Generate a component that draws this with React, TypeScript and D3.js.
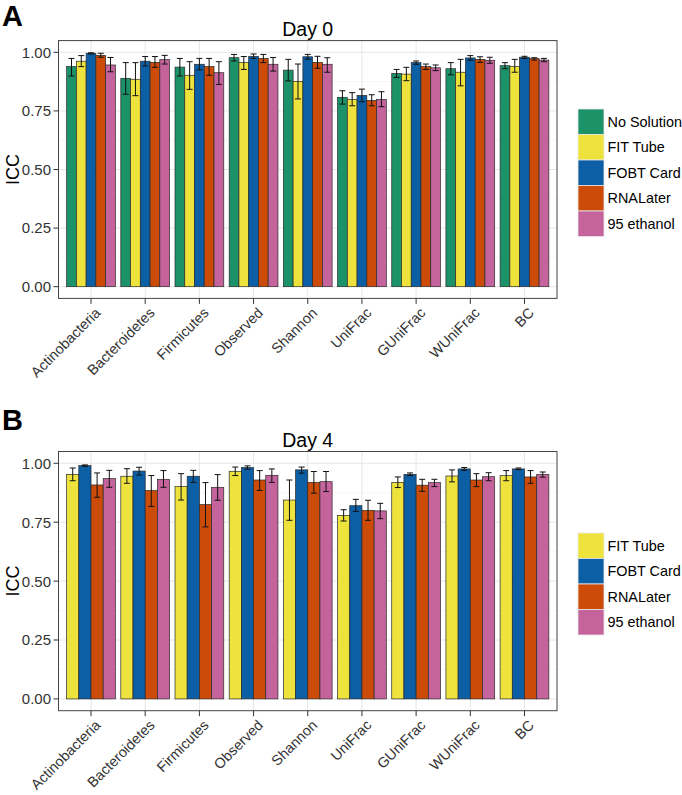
import React from "react";
import * as d3 from "d3";

const categories = ["Actinobacteria", "Bacteroidetes", "Firmicutes", "Observed", "Shannon", "UniFrac", "GUniFrac", "WUniFrac", "BC"];
const yTicks = [0, 0.25, 0.5, 0.75, 1.0];
const yMinor = [0.125, 0.375, 0.625, 0.875];

const day0Series = ["No Solution", "FIT Tube", "FOBT Card", "RNALater", "95 ethanol"];
const day4Series = ["FIT Tube", "FOBT Card", "RNALater", "95 ethanol"];

// Day 0
const d0NoSolution = [0.939, 0.889, 0.937, 0.977, 0.924, 0.808, 0.910, 0.930, 0.943];
const d0NoSolutionLo = [0.899, 0.821, 0.899, 0.963, 0.878, 0.779, 0.893, 0.904, 0.930];
const d0NoSolutionHi = [0.974, 0.956, 0.974, 0.991, 0.970, 0.836, 0.927, 0.956, 0.956];
const d0Fit = [0.962, 0.885, 0.902, 0.957, 0.876, 0.798, 0.907, 0.915, 0.939];
const d0FitLo = [0.939, 0.815, 0.842, 0.927, 0.801, 0.772, 0.879, 0.857, 0.915];
const d0FitHi = [0.986, 0.956, 0.960, 0.982, 0.950, 0.828, 0.936, 0.970, 0.970];
const d0Fobt = [0.996, 0.962, 0.949, 0.983, 0.981, 0.816, 0.956, 0.976, 0.979];
const d0FobtLo = [0.993, 0.942, 0.925, 0.974, 0.971, 0.789, 0.949, 0.966, 0.974];
const d0FobtHi = [0.998, 0.982, 0.974, 0.993, 0.991, 0.843, 0.963, 0.986, 0.983];
const d0Rna = [0.987, 0.957, 0.939, 0.974, 0.957, 0.795, 0.939, 0.970, 0.973];
const d0RnaLo = [0.979, 0.936, 0.902, 0.956, 0.932, 0.772, 0.927, 0.957, 0.967];
const d0RnaHi = [0.996, 0.982, 0.974, 0.991, 0.983, 0.819, 0.950, 0.981, 0.977];
const d0Eth = [0.946, 0.969, 0.913, 0.949, 0.949, 0.799, 0.934, 0.966, 0.967];
const d0EthLo = [0.917, 0.950, 0.863, 0.920, 0.915, 0.768, 0.922, 0.953, 0.960];
const d0EthHi = [0.978, 0.987, 0.960, 0.978, 0.977, 0.832, 0.946, 0.979, 0.974];

// Day 4
const d4Fit = [0.953, 0.945, 0.902, 0.966, 0.844, 0.779, 0.919, 0.946, 0.948];
const d4FitLo = [0.926, 0.915, 0.844, 0.948, 0.758, 0.755, 0.897, 0.921, 0.926];
const d4FitHi = [0.980, 0.977, 0.956, 0.984, 0.929, 0.803, 0.942, 0.972, 0.969];
const d4Fobt = [0.990, 0.967, 0.945, 0.982, 0.972, 0.820, 0.953, 0.976, 0.976];
const d4FobtLo = [0.987, 0.950, 0.919, 0.975, 0.958, 0.796, 0.948, 0.970, 0.973];
const d4FobtHi = [0.993, 0.983, 0.970, 0.989, 0.984, 0.847, 0.959, 0.982, 0.980];
const d4Rna = [0.908, 0.884, 0.825, 0.929, 0.919, 0.800, 0.907, 0.929, 0.942];
const d4RnaLo = [0.856, 0.817, 0.730, 0.885, 0.873, 0.758, 0.881, 0.901, 0.915];
const d4RnaHi = [0.959, 0.948, 0.918, 0.969, 0.965, 0.843, 0.932, 0.956, 0.969];
const d4Eth = [0.935, 0.932, 0.898, 0.949, 0.922, 0.798, 0.918, 0.943, 0.952];
const d4EthLo = [0.898, 0.898, 0.843, 0.919, 0.880, 0.765, 0.901, 0.926, 0.941];
const d4EthHi = [0.970, 0.969, 0.952, 0.976, 0.965, 0.830, 0.932, 0.960, 0.963];

const colorMap: Record<string, string> = {
  "No Solution": "#1c9268",
  "FIT Tube": "#eee33d",
  "FOBT Card": "#0c5ea5",
  "RNALater": "#cd4b09",
  "95 ethanol": "#c5649c",
};

const day0Data = [
  { name: "No Solution", v: d0NoSolution, lo: d0NoSolutionLo, hi: d0NoSolutionHi },
  { name: "FIT Tube", v: d0Fit, lo: d0FitLo, hi: d0FitHi },
  { name: "FOBT Card", v: d0Fobt, lo: d0FobtLo, hi: d0FobtHi },
  { name: "RNALater", v: d0Rna, lo: d0RnaLo, hi: d0RnaHi },
  { name: "95 ethanol", v: d0Eth, lo: d0EthLo, hi: d0EthHi },
];
const day4Data = [
  { name: "FIT Tube", v: d4Fit, lo: d4FitLo, hi: d4FitHi },
  { name: "FOBT Card", v: d4Fobt, lo: d4FobtLo, hi: d4FobtHi },
  { name: "RNALater", v: d4Rna, lo: d4RnaLo, hi: d4RnaHi },
  { name: "95 ethanol", v: d4Eth, lo: d4EthLo, hi: d4EthHi },
];

const FONT = "'Liberation Sans', Arial, Helvetica, sans-serif";

type SeriesData = { name: string; v: number[]; lo: number[]; hi: number[] };

function Panel(props: {
  top: number;
  bottom: number;
  title: string;
  letter: string;
  letterY: number;
  titleY: number;
  series: string[];
  data: SeriesData[];
  legendTop: number;
}) {
  const { top, bottom, title, letter, letterY, titleY, series, data, legendTop } = props;
  const left = 58.5;
  const right = 557;
  const x = d3.scaleBand<string>().domain(categories).range([left, right]).paddingInner(0.1).paddingOuter(0.15);
  const xs = d3.scaleBand<string>().domain(series).range([0, x.bandwidth()]).padding(0);
  const y = d3.scaleLinear().domain([-0.05, 1.05]).range([bottom, top]);
  const step = x.step();
  const centers = categories.map((c) => (x(c) as number) + x.bandwidth() / 2);
  const capHalf = 3;
  const keyH = 25.5;
  return (
    <g>
      <text x={2} y={letterY} fontFamily={FONT} fontWeight="bold" fontSize={29} fill="#000">{letter}</text>
      <text x={(left + right) / 2} y={titleY} textAnchor="middle" fontFamily={FONT} fontSize={19.5} fill="#000">{title}</text>
      <rect x={left} y={top} width={right - left} height={bottom - top} fill="#fff" />
      {yMinor.map((t) => (
        <line key={"mn" + t} x1={left} x2={right} y1={y(t)} y2={y(t)} stroke="#f4f4f4" strokeWidth={0.8} />
      ))}
      {yTicks.map((t) => (
        <line key={"mj" + t} x1={left} x2={right} y1={y(t)} y2={y(t)} stroke="#e6e6e6" strokeWidth={1} />
      ))}
      {centers.map((c, i) => (
        <line key={"vx" + i} x1={c} x2={c} y1={top} y2={bottom} stroke="#e6e6e6" strokeWidth={1} />
      ))}
      {data.map((s) =>
        categories.map((c, i) => {
          const bx = (x(c) as number) + (xs(s.name) as number);
          return (
            <rect
              key={s.name + c}
              x={bx}
              y={y(s.v[i])}
              width={xs.bandwidth()}
              height={y(0) - y(s.v[i])}
              fill={colorMap[s.name]}
              stroke="#2a2a2a"
              strokeWidth={0.7}
            />
          );
        })
      )}
      {data.map((s) =>
        categories.map((c, i) => {
          const cx = (x(c) as number) + (xs(s.name) as number) + xs.bandwidth() / 2;
          return (
            <g key={"e" + s.name + c} stroke="#111" strokeWidth={1}>
              <line x1={cx} x2={cx} y1={y(s.lo[i])} y2={y(s.hi[i])} />
              <line x1={cx - capHalf} x2={cx + capHalf} y1={y(s.lo[i])} y2={y(s.lo[i])} />
              <line x1={cx - capHalf} x2={cx + capHalf} y1={y(s.hi[i])} y2={y(s.hi[i])} />
            </g>
          );
        })
      )}
      <rect x={left} y={top} width={right - left} height={bottom - top} fill="none" stroke="#444" strokeWidth={1} />
      {yTicks.map((t) => (
        <g key={"yt" + t}>
          <line x1={left - 5} x2={left} y1={y(t)} y2={y(t)} stroke="#333" strokeWidth={1} />
          <text x={left - 7.5} y={y(t)} dy="0.36em" textAnchor="end" fontFamily={FONT} fontSize={15} fill="#333">
            {d3.format(".2f")(t)}
          </text>
        </g>
      ))}
      {centers.map((c, i) => (
        <g key={"xt" + i}>
          <line x1={c} x2={c} y1={bottom} y2={bottom + 5.5} stroke="#333" strokeWidth={1} />
          <text
            transform={`translate(${c + 3},${bottom + 8}) rotate(-45)`}
            textAnchor="end"
            dy="0.72em"
            fontFamily={FONT}
            fontSize={14.4}
            fill="#333"
          >
            {categories[i]}
          </text>
        </g>
      ))}
      <text
        transform={`translate(18.5,${(top + bottom) / 2}) rotate(-90)`}
        textAnchor="middle"
        fontFamily={FONT}
        fontSize={18}
        fill="#000"
      >
        ICC
      </text>
      {series.map((s, i) => (
        <g key={"lg" + s}>
          <rect x={578} y={legendTop + i * keyH} width={26} height={keyH} fill={colorMap[s]} stroke="#e8e8e8" strokeWidth={0.8} />
          <text x={607.5} y={legendTop + i * keyH + keyH / 2} dy="0.36em" fontFamily={FONT} fontSize={14.4} fill="#000">
            {s}
          </text>
        </g>
      ))}
      {step < 0 ? null : null}
    </g>
  );
}

export default function App() {
  return (
    <svg width={682} height={795} style={{ position: "absolute", left: 0, top: 0, background: "#fff" }}>
      <rect x={0} y={0} width={682} height={795} fill="#fff" />
      <Panel top={40.6} bottom={298.4} title="Day 0" letter="A" letterY={26} titleY={35.5} series={day0Series} data={day0Data} legendTop={109} />
      <Panel top={451.5} bottom={710.7} title="Day 4" letter="B" letterY={430} titleY={446.5} series={day4Series} data={day4Data} legendTop={533} />
    </svg>
  );
}
